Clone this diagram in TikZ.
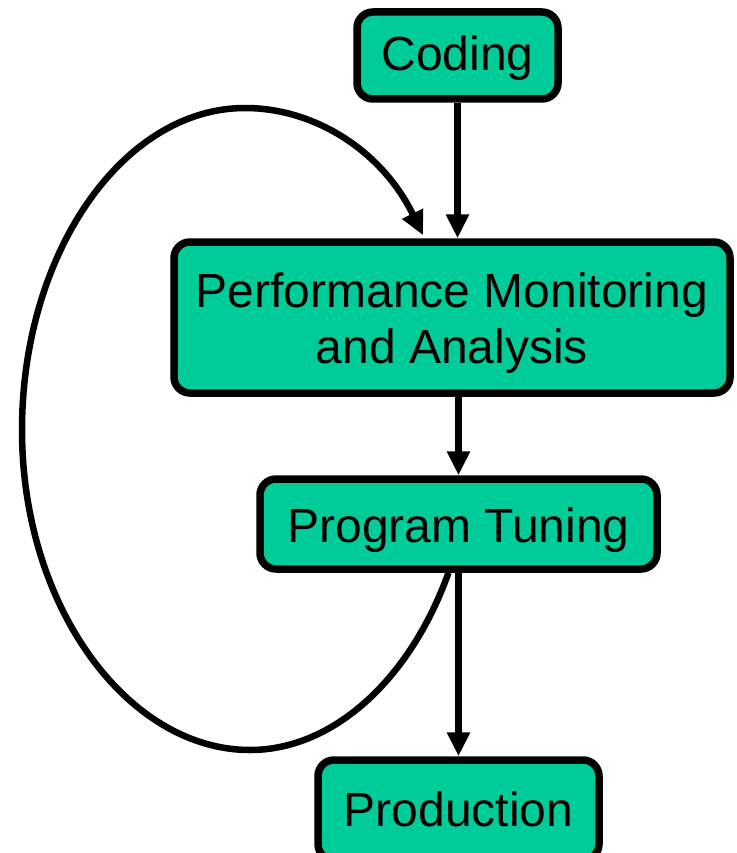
\documentclass[tikz,border=0pt]{standalone}
\usepackage{fontspec}
\setmainfont{Liberation Sans}
\usetikzlibrary{arrows.meta,calc}
\definecolor{boxgreen}{RGB}{0,204,153}
\begin{document}
\begin{tikzpicture}[x=1pt,y=-1pt,
  stepbox/.style={draw=black, line width=7.5pt, fill=boxgreen, rounded corners=16pt,
    inner sep=0pt, align=center, font=\fontsize{48}{56}\selectfont},
  arr/.style={line width=6.5pt, -{Triangle[length=24pt,width=22pt]}}]
\useasboundingbox (0,0) rectangle (736,853);
\clip (0,0) rectangle (736,853);
\node[stepbox, minimum width=201pt, minimum height=87pt, text height=40pt, text depth=10pt] (cod) at (457.5,55.5) {Coding};
\node[stepbox, minimum width=556pt, minimum height=151pt] (pm) at (452,317.5) {\rule{0pt}{45pt}Performance Monitoring\\and Analysis};
\node[stepbox, minimum width=397pt, minimum height=90pt, text height=46pt, text depth=10pt] (pt) at (458.5,524) {Program Tuning};
\node[stepbox, minimum width=281pt, minimum height=100pt, text height=42pt, text depth=10pt] (pr) at (458.5,810) {Production};
\draw[arr] (cod.south) -- (cod.south |- pm.north);
\draw[arr] (pt.north |- pm.south) -- (pt.north);
\draw[arr] (pt.south) -- (pr.north);
\coordinate (lb) at (250,750);
\coordinate (ll) at (22,430);
\coordinate (lt) at (245,108);
\draw[arr] ($(pt.south)+(-10,0)$) .. controls (410,680) and (333,750) .. (lb)
  .. controls (128,750) and (22,607) .. (ll)
  .. controls (22,253) and (123,108) .. (lt)
  .. controls (315,108) and (382,151) .. ($(pm.north)+(-29,-3)$);
\end{tikzpicture}
\end{document}
